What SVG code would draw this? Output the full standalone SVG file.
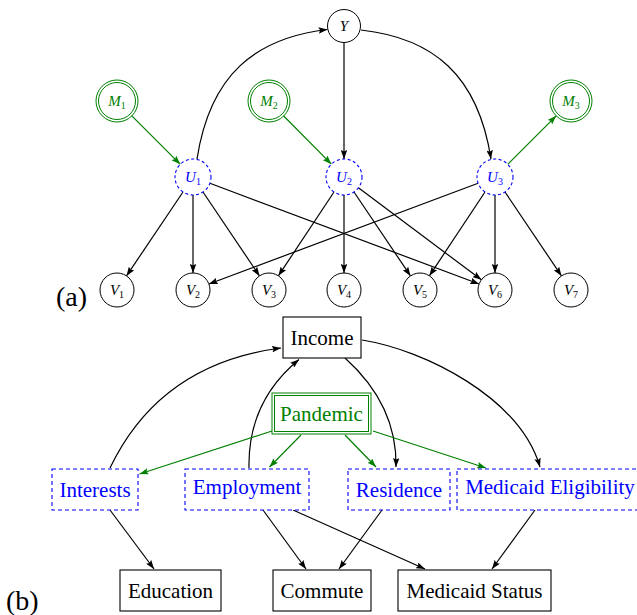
<svg xmlns="http://www.w3.org/2000/svg" width="637" height="615" viewBox="0 0 637 615">
  <style>
    text { font-family: "Liberation Serif", "Times New Roman", serif; }
    .lbl { font-size: 15px; font-style: italic; text-anchor: middle; }
    .sub { font-size: 10px; font-style: normal; }
    .blk { fill: #000; }
    .blue { fill: #0000ff; }
    .green { fill: #008000; }
    .node { fill: #fff; stroke: #000; stroke-width: 1; }
    .latent { fill: #fff; stroke: #0000ff; stroke-width: 1.1; stroke-dasharray: 3 2.5; }
    .obs { fill: none; stroke: #008000; stroke-width: 1; }
    .box { fill: #fff; stroke: #000; stroke-width: 1.1; }
    .dbox { fill: #fff; stroke: #0000ff; stroke-width: 1.1; stroke-dasharray: 4 3; }
    .btxt { font-size: 21px; text-anchor: middle; }
    .e { fill: none; stroke: #000; stroke-width: 1.2; marker-end: url(#ab); }
    .g { fill: none; stroke: #008000; stroke-width: 1.2; marker-end: url(#ag); }
    .panel { font-size: 28px; }
  </style>
  <defs>
    <marker id="ab" viewBox="0 0 9 6.5" refX="9" refY="3.25" markerWidth="9" markerHeight="6.5" markerUnits="userSpaceOnUse" orient="auto">
      <path d="M0,0 L9,3.25 L0,6.5 L1.6,3.25 z" fill="#000"/>
    </marker>
    <marker id="ag" viewBox="0 0 9 6.5" refX="9" refY="3.25" markerWidth="9" markerHeight="6.5" markerUnits="userSpaceOnUse" orient="auto">
      <path d="M0,0 L9,3.25 L0,6.5 L1.6,3.25 z" fill="#008000"/>
    </marker>
  </defs>

  <!-- (a) connectors -->
  <g id="edges-a">
    <path class="e" d="M197,159 C210,75 255,38 327.5,29.5"/>
    <path class="e" d="M361,30 C433,38 478,75 491,159"/>
    <path class="e" d="M344,42.5 L344,159"/>
    <path class="g" d="M131.8,115.8 L180.3,164.3"/>
    <path class="g" d="M283.7,116 L331.4,164.2"/>
    <path class="g" d="M507.7,164.3 L556.2,115.8"/>
    <path class="e" d="M183,192 L126.5,275.9"/>
    <path class="e" d="M193,195 L193,273"/>
    <path class="e" d="M203,192 L259.5,275.9"/>
    <path class="e" d="M209.9,183.3 L479.1,284"/>
    <path class="e" d="M334,192 L278.4,275.8"/>
    <path class="e" d="M344,195 L344,273"/>
    <path class="e" d="M354,192 L410.5,275.9"/>
    <path class="e" d="M358.4,187.8 L481.4,279.8"/>
    <path class="e" d="M478.1,183.3 L208.9,284"/>
    <path class="e" d="M485,192 L429.4,275.8"/>
    <path class="e" d="M495,195 L495,273"/>
    <path class="e" d="M505,192 L561.5,275.9"/>
  </g>

  <!-- (a) nodes -->
  <g id="Y">
    <circle class="node" cx="344" cy="26" r="16.5"/>
    <text class="lbl blk" x="344" y="31">Y</text>
  </g>
  <g id="M1">
    <circle class="obs" cx="117" cy="101" r="21"/>
    <circle class="obs" cx="117" cy="101" r="18.5"/>
    <text class="lbl green" x="117" y="106">M<tspan class="sub" dy="3">1</tspan></text>
  </g>
  <g id="M2">
    <circle class="obs" cx="269" cy="101" r="21"/>
    <circle class="obs" cx="269" cy="101" r="18.5"/>
    <text class="lbl green" x="269" y="106">M<tspan class="sub" dy="3">2</tspan></text>
  </g>
  <g id="M3">
    <circle class="obs" cx="571" cy="101" r="21"/>
    <circle class="obs" cx="571" cy="101" r="18.5"/>
    <text class="lbl green" x="571" y="106">M<tspan class="sub" dy="3">3</tspan></text>
  </g>
  <g id="U1">
    <circle class="latent" cx="193" cy="177" r="18"/>
    <text class="lbl blue" x="193" y="182">U<tspan class="sub" dy="3">1</tspan></text>
  </g>
  <g id="U2">
    <circle class="latent" cx="344" cy="177" r="18"/>
    <text class="lbl blue" x="344" y="182">U<tspan class="sub" dy="3">2</tspan></text>
  </g>
  <g id="U3">
    <circle class="latent" cx="495" cy="177" r="18"/>
    <text class="lbl blue" x="495" y="182">U<tspan class="sub" dy="3">3</tspan></text>
  </g>
  <g id="V1">
    <circle class="node" cx="117" cy="290" r="17"/>
    <text class="lbl blk" x="117" y="295">V<tspan class="sub" dy="3">1</tspan></text>
  </g>
  <g id="V2">
    <circle class="node" cx="193" cy="290" r="17"/>
    <text class="lbl blk" x="193" y="295">V<tspan class="sub" dy="3">2</tspan></text>
  </g>
  <g id="V3">
    <circle class="node" cx="269" cy="290" r="17"/>
    <text class="lbl blk" x="269" y="295">V<tspan class="sub" dy="3">3</tspan></text>
  </g>
  <g id="V4">
    <circle class="node" cx="344" cy="290" r="17"/>
    <text class="lbl blk" x="344" y="295">V<tspan class="sub" dy="3">4</tspan></text>
  </g>
  <g id="V5">
    <circle class="node" cx="420" cy="290" r="17"/>
    <text class="lbl blk" x="420" y="295">V<tspan class="sub" dy="3">5</tspan></text>
  </g>
  <g id="V6">
    <circle class="node" cx="495" cy="290" r="17"/>
    <text class="lbl blk" x="495" y="295">V<tspan class="sub" dy="3">6</tspan></text>
  </g>
  <g id="V7">
    <circle class="node" cx="571" cy="290" r="17"/>
    <text class="lbl blk" x="571" y="295">V<tspan class="sub" dy="3">7</tspan></text>
  </g>
  <text class="panel" x="56" y="306">(a)</text>

  <!-- (b) connectors -->
  <g id="edges-b">
    <path class="e" d="M110,468 C145,395 205,358 281,348"/>
    <path class="e" d="M249,468 C248,420 268,385 299,359.5"/>
    <path class="e" d="M345,358 C375,385 397,420 396,467"/>
    <path class="e" d="M362,340 C425,350 520,398 540,467"/>
    <path class="g" d="M272,431 L139.5,474"/>
    <path class="g" d="M301,435 L269.5,467"/>
    <path class="g" d="M345,435 L376,467"/>
    <path class="g" d="M373,431 L486,468"/>
    <path class="e" d="M110,510 L154,569"/>
    <path class="e" d="M263,510 L306,569"/>
    <path class="e" d="M293,510 L425,569"/>
    <path class="e" d="M382,510 L339,569"/>
    <path class="e" d="M535,510 L492,569"/>
  </g>

  <!-- (b) nodes -->
  <g id="Income">
    <rect class="box" x="283" y="317" width="78" height="41"/>
    <text class="btxt blk" x="322" y="345">Income</text>
  </g>
  <g id="Pandemic">
    <rect class="obs" x="272" y="393" width="99" height="41" fill="#fff"/>
    <rect class="obs" x="274.5" y="395.5" width="94" height="36"/>
    <text class="btxt green" x="321.5" y="421">Pandemic</text>
  </g>
  <g id="Interests">
    <rect class="dbox" x="52" y="469" width="86" height="41"/>
    <text class="btxt blue" x="95" y="497">Interests</text>
  </g>
  <g id="Employment">
    <rect class="dbox" x="185" y="469" width="124" height="41"/>
    <text class="btxt blue" x="247" y="494">Employment</text>
  </g>
  <g id="Residence">
    <rect class="dbox" x="348" y="469" width="102" height="41"/>
    <text class="btxt blue" x="399" y="497">Residence</text>
  </g>
  <g id="MedicaidEligibility">
    <rect class="dbox" x="457" y="469" width="186" height="41"/>
    <text class="btxt blue" x="550" y="494">Medicaid Eligibility</text>
  </g>
  <g id="Education">
    <rect class="box" x="120" y="570" width="101" height="41"/>
    <text class="btxt blk" x="170.5" y="598">Education</text>
  </g>
  <g id="Commute">
    <rect class="box" x="273" y="570" width="98" height="41"/>
    <text class="btxt blk" x="322" y="598">Commute</text>
  </g>
  <g id="MedicaidStatus">
    <rect class="box" x="398" y="570" width="153" height="41"/>
    <text class="btxt blk" x="474.5" y="598">Medicaid Status</text>
  </g>
  <text class="panel" x="6" y="610">(b)</text>
</svg>
